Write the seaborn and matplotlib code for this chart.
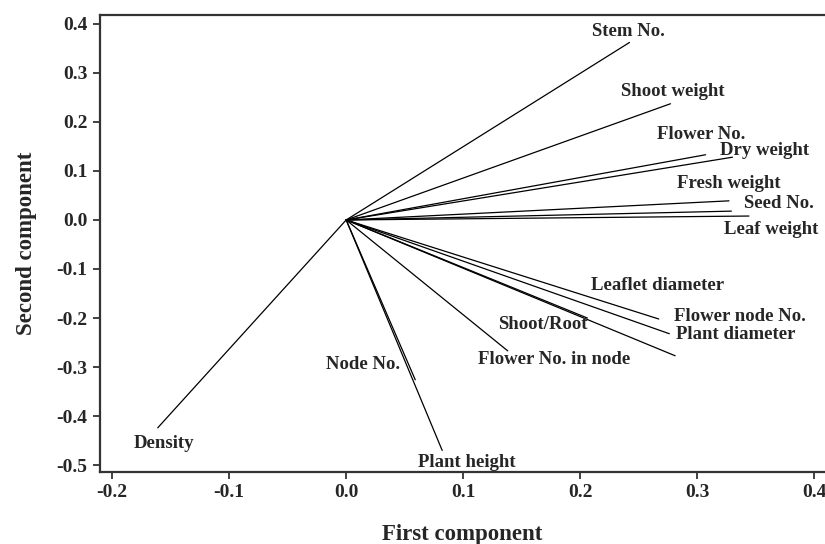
import pandas as pd
import matplotlib.pyplot as plt
import seaborn as sns

# loadings of each trait on the first two components
traits = ['Stem No.', 'Shoot weight', 'Flower No.', 'Dry weight', 'Fresh weight',
          'Seed No.', 'Leaf weight', 'Leaflet diameter', 'Flower node No.',
          'Plant diameter', 'Shoot/Root', 'Flower No. in node', 'Node No.',
          'Plant height', 'Density']
pc1 = [0.242, 0.277, 0.307, 0.330, 0.327, 0.329, 0.344, 0.267, 0.276,
       0.281, 0.206, 0.138, 0.059, 0.082, -0.161]
pc2 = [0.362, 0.237, 0.133, 0.128, 0.039, 0.018, 0.008, -0.202, -0.232,
       -0.277, -0.200, -0.267, -0.326, -0.470, -0.424]

# where each label sits (data coords, text centre)
label_x = [0.241, 0.279, 0.303, 0.357, 0.327, 0.370, 0.363, 0.266, 0.336,
           0.333, 0.168, 0.178, 0.014, 0.103, -0.156]
label_y = [0.385, 0.261, 0.175, 0.142, 0.074, 0.033, -0.020, -0.133, -0.197,
           -0.234, -0.213, -0.285, -0.295, -0.494, -0.455]

rows = []
for name, x, y in zip(traits, pc1, pc2):
    rows.append({'trait': name, 'PC1': 0.0, 'PC2': 0.0})
    rows.append({'trait': name, 'PC1': x, 'PC2': y})
df = pd.DataFrame(rows)

sns.set_style('ticks')
plt.rcParams['font.family'] = ['Liberation Serif', 'DejaVu Serif']
plt.rcParams['font.weight'] = 'bold'

fig = plt.figure(figsize=(8.25, 5.44), dpi=100)
ax = fig.add_axes([0.1212, 0.1324, 0.8788, 0.84])

sns.lineplot(data=df, x='PC1', y='PC2', units='trait', estimator=None,
             sort=False, color='black', linewidth=0.9, ax=ax)

for name, x, y in zip(traits, label_x, label_y):
    ax.text(x, y, name, ha='center', va='center', fontsize=13.5,
            fontweight='bold')

ax.set_xlim(-0.2103, 0.409)
ax.set_ylim(-0.514, 0.418)
ax.set_xticks([-0.2, -0.1, 0.0, 0.1, 0.2, 0.3, 0.4])
ax.set_yticks([0.4, 0.3, 0.2, 0.1, 0.0, -0.1, -0.2, -0.3, -0.4, -0.5])
ax.set_xticklabels(['-0.2', '-0.1', '0.0', '0.1', '0.2', '0.3', '0.4'])
ax.set_yticklabels(['0.4', '0.3', '0.2', '0.1', '0.0', '-0.1', '-0.2',
                    '-0.3', '-0.4', '-0.5'])
ax.tick_params(labelsize=14, width=1.3, length=5, color='#333333', pad=4)
for lab in ax.get_xticklabels() + ax.get_yticklabels():
    lab.set_fontweight('bold')

ax.set_xlabel('First component', fontsize=16.5, fontweight='bold', labelpad=16)
ax.set_ylabel('Second component', fontsize=16.5, fontweight='bold', labelpad=14)

ax.spines['right'].set_visible(False)
for s in ['left', 'bottom', 'top']:
    ax.spines[s].set_linewidth(1.6)
    ax.spines[s].set_color('#333333')

fig.savefig('out.png', dpi=100)
